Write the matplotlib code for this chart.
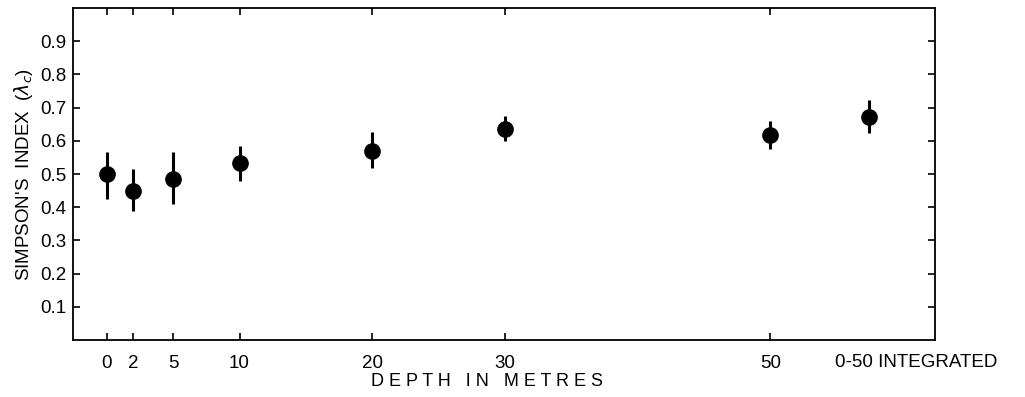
import matplotlib
matplotlib.use('Agg')
import matplotlib.pyplot as plt

# Simpson's index by sampling depth, with the depth-integrated value at the end
depths = [0, 2, 5, 10, 20, 30, 50]
depth_labels = ['0', '2', '5', '10', '20', '30', '50']
index_mean = [0.50, 0.45, 0.486, 0.533, 0.569, 0.636, 0.618]
index_low = [0.425, 0.39, 0.41, 0.48, 0.517, 0.60, 0.574]
index_high = [0.566, 0.516, 0.566, 0.584, 0.626, 0.674, 0.661]

integ_pos = 57.4
integ_mean = 0.671
integ_low = 0.625
integ_high = 0.724

plt.rcParams['font.family'] = ['Liberation Sans', 'DejaVu Sans']

fig = plt.figure(figsize=(10.25, 3.97), dpi=100)
ax = fig.add_axes([0.0712, 0.1436, 0.841, 0.836])

xs = depths + [integ_pos]
ys = index_mean + [integ_mean]
lo = [m - l for m, l in zip(ys, index_low + [integ_low])]
hi = [h - m for m, h in zip(ys, index_high + [integ_high])]

ax.errorbar(xs, ys, yerr=[lo, hi], fmt='o', color='black', ms=11,
            elinewidth=2.2, capsize=0)

ax.set_xlim(-2.55, 62.4)
ax.set_ylim(0, 1.0)

ax.set_xticks(depths)
ax.set_xticklabels(depth_labels)
ax.set_yticks([0.1, 0.2, 0.3, 0.4, 0.5, 0.6, 0.7, 0.8, 0.9])
ax.set_yticklabels(['0.1', '0.2', '0.3', '0.4', '0.5', '0.6', '0.7', '0.8', '0.9'])
ax.tick_params(axis='both', direction='in', length=5, width=1.2,
               labelsize=13.5, top=True, right=True)
ax.tick_params(axis='x', pad=11)
ax.tick_params(axis='y', pad=5)

ax.text(integ_pos - 2.55, -0.042, '0-50 INTEGRATED', transform=ax.transData,
        ha='left', va='top', fontsize=13.5)

for s in ax.spines.values():
    s.set_linewidth(1.3)

ax.set_xlabel('D E P T H   I N   M E T R E S', fontsize=13)
ax.xaxis.set_label_coords(0.48, -0.10)
ax.set_ylabel("SIMPSON'S  INDEX  ($\\lambda_c$)", fontsize=13.5)
ax.yaxis.set_label_coords(-0.044, 0.5)

fig.savefig('out.png', dpi=100)
